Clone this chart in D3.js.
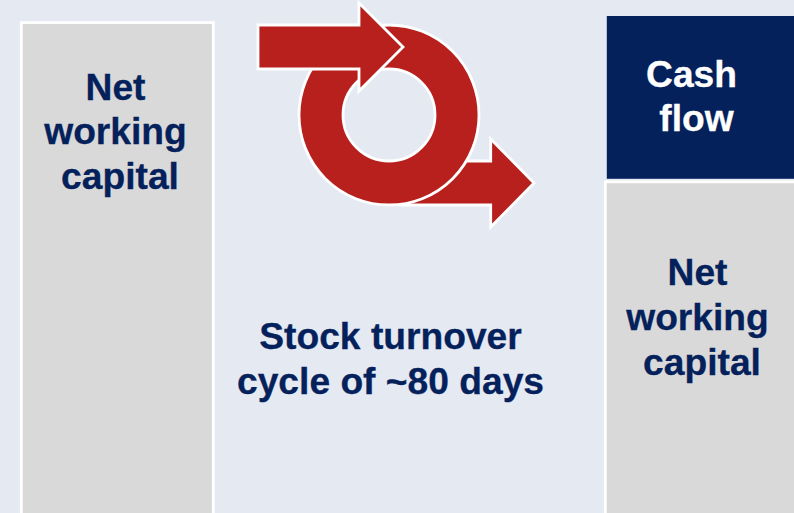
<!DOCTYPE html>
<html>
<head>
<meta charset="utf-8">
<script src="https://cdn.jsdelivr.net/npm/d3@7"></script>
<style>
    html, body { margin: 0; padding: 0; background: #e4e9f2; overflow: hidden; }
    svg { display: block; }
    text { font-family: "Liberation Sans", Arial, sans-serif; font-weight: bold; font-size: 37.2px; text-anchor: middle; }
</style>
</head>
<body>
<div id="container"></div>
<script>
    // columns of the picture, left to right
    const columns = ['before', 'cycle', 'after'];

    // bar values, read against a 0-100 scale
    const segmentColumns = ['before', 'after', 'after'];
    const segmentNames = ['Net working capital', 'Net working capital', 'Cash flow'];
    const segmentFrom = [0, 0, 67.7];
    const segmentTo = [98.7, 67.1, 100];

    const nwcLines = ['Net', 'working', 'capital'];
    const cashLines = ['Cash', 'flow'];
    const cycleLines = ['Stock turnover', 'cycle of ~80 days'];

    const WIDTH = 794,
        HEIGHT = 513,
        NAVY = '#04215b',
        RED = '#b8201d',
        GREY = '#d9d9d9';

    const svg = d3.select('#container').append('svg')
        .attr('width', WIDTH)
        .attr('height', HEIGHT);

    const x = d3.scaleBand()
        .domain(columns)
        .range([21.3, 797.3])
        .paddingInner(0.3425)
        .paddingOuter(0);

    const y = d3.scaleLinear()
        .domain([0, 100])
        .range([520, 16]);

    /**
     ** Bars
     */
    const segments = segmentNames.map((name, i) => ({
        name: name,
        column: segmentColumns[i],
        from: segmentFrom[i],
        to: segmentTo[i]
    }));

    // the navy block has no outline, so it starts where the grey fill starts
    const inset = d => d.name === 'Cash flow' ? 1.5 : 0;

    svg.selectAll('rect.segment')
        .data(segments)
        .enter()
        .append('rect')
        .attr('class', 'segment')
        .attr('x', d => x(d.column) + inset(d))
        .attr('y', d => y(d.to))
        .attr('width', x.bandwidth())
        .attr('height', d => y(d.from) - y(d.to))
        .attr('fill', d => d.name === 'Cash flow' ? NAVY : GREY)
        .attr('stroke', d => d.name === 'Cash flow' ? 'none' : '#fff')
        .attr('stroke-width', 2.8);

    /**
     ** Arrows and ring
     */
    function arrowPath(x0, x1, neck, yMid, halfBody, halfHead) {
        const path = d3.path();
        path.moveTo(x0, yMid - halfBody);
        path.lineTo(neck, yMid - halfBody);
        path.lineTo(neck, yMid - halfHead);
        path.lineTo(x1, yMid);
        path.lineTo(neck, yMid + halfHead);
        path.lineTo(neck, yMid + halfBody);
        path.lineTo(x0, yMid + halfBody);
        path.closePath();
        return path.toString();
    }

    const shapes = svg.append('g')
        .attr('fill', RED)
        .attr('stroke', '#fff')
        .attr('stroke-width', 2.8)
        .attr('stroke-linejoin', 'miter');

    shapes.append('path')
        .attr('d', arrowPath(400, 534, 490.7, 183, 22, 44));

    shapes.append('path')
        .attr('transform', 'translate(389,115)')
        .attr('fill-rule', 'evenodd')
        .attr('d', d3.arc()({ innerRadius: 46, outerRadius: 90, startAngle: 0, endAngle: 2 * Math.PI }));

    shapes.append('path')
        .attr('d', arrowPath(258, 403, 359, 47, 22, 44));

    /**
     ** Labels
     */
    function addLines(lines, cx, firstBaseline, step, color, offsets) {
        svg.append('g')
            .attr('fill', color)
            .attr('stroke', color)
            .attr('stroke-width', 0.3)
            .selectAll('text')
            .data(lines)
            .enter()
            .append('text')
            .attr('x', (d, i) => cx + (offsets ? offsets[i] : 0))
            .attr('y', (d, i) => firstBaseline + i * step)
            .text(d => d);
    }

    const nwcOffsets = [0, 0, 4.5];
    addLines(nwcLines, 115.5, 99.5, 44.8, NAVY, nwcOffsets);
    addLines(nwcLines, 697.5, 285, 44.8, NAVY, nwcOffsets);
    addLines(cashLines, 691.5, 86.5, 44.5, '#fff', [0, 5]);
    addLines(cycleLines, 390.5, 349, 45, NAVY);
</script>
</body>
</html>
